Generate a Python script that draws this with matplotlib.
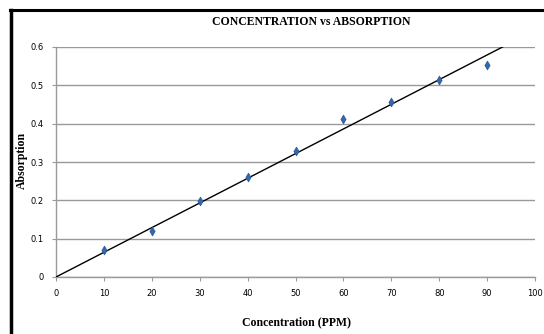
import matplotlib
matplotlib.use("Agg")
import matplotlib.pyplot as plt
import numpy as np
from matplotlib.lines import Line2D

concentration = [10, 20, 30, 40, 50, 60, 70, 80, 90]
absorption = [0.070, 0.120, 0.197, 0.260, 0.328, 0.412, 0.456, 0.515, 0.553]
x_ticks = [0, 10, 20, 30, 40, 50, 60, 70, 80, 90, 100]
y_ticks = [0, 0.1, 0.2, 0.3, 0.4, 0.5, 0.6]
y_tick_labels = ["0", "0.1", "0.2", "0.3", "0.4", "0.5", "0.6"]

W, H = 544, 334
fig = plt.figure(figsize=(W / 100, H / 100), dpi=100)
ax = fig.add_axes([56 / W, 1 - 277 / H, (535 - 56) / W, (277 - 47) / H])

# trendline through origin (least squares)
xa = np.array(concentration, dtype=float)
ya = np.array(absorption, dtype=float)
slope = (xa * ya).sum() / (xa * xa).sum()
x_end = 0.6 / slope
ax.plot([0, x_end], [0, slope * x_end], color="black", lw=1.0, zorder=3)

ax.scatter(concentration, absorption, marker="d", s=20, color="#3567AA",
           edgecolors="#2A5A9A", linewidths=0.5, zorder=4)

ax.set_xlim(0, 100)
ax.set_ylim(0, 0.6)
ax.set_xticks(x_ticks)
ax.set_yticks(y_ticks)
ax.set_yticklabels(y_tick_labels)
ax.yaxis.grid(True, color="#999999", lw=1.0)
ax.set_axisbelow(True)
for s in ["top", "right"]:
    ax.spines[s].set_visible(False)
for s in ["left", "bottom"]:
    ax.spines[s].set_color("#999999")
    ax.spines[s].set_linewidth(1.0)
ax.tick_params(axis="both", direction="out", length=3, width=0.8, color="#999999",
               labelsize=6.5, pad=6)
for lab in ax.get_xticklabels() + ax.get_yticklabels():
    lab.set_fontfamily("DejaVu Sans")
    lab.set_fontsize(6)

fig.text(311 / W, 1 - 22 / H, "CONCENTRATION vs ABSORPTION", ha="center", va="center",
         fontsize=8.5, fontweight="bold", family="Liberation Serif")
fig.text(296 / W, 1 - 322 / H, "Concentration (PPM)", ha="center", va="center",
         fontsize=8.5, fontweight="bold", family="Liberation Serif")
fig.text(22 / W, 1 - 160 / H, "Absorption", ha="center", va="center", rotation=90,
         fontsize=8.5, fontweight="bold", family="Liberation Serif")

# outer frame (left and top)
fig.add_artist(Line2D([10.5 / W, 10.5 / W], [0, 1 - 10 / H], color="black", lw=2.5,
                      transform=fig.transFigure))
fig.add_artist(Line2D([9.5 / W, 1], [1 - 10 / H, 1 - 10 / H], color="black", lw=2.2,
                      transform=fig.transFigure))

fig.savefig("out.png", dpi=100)
